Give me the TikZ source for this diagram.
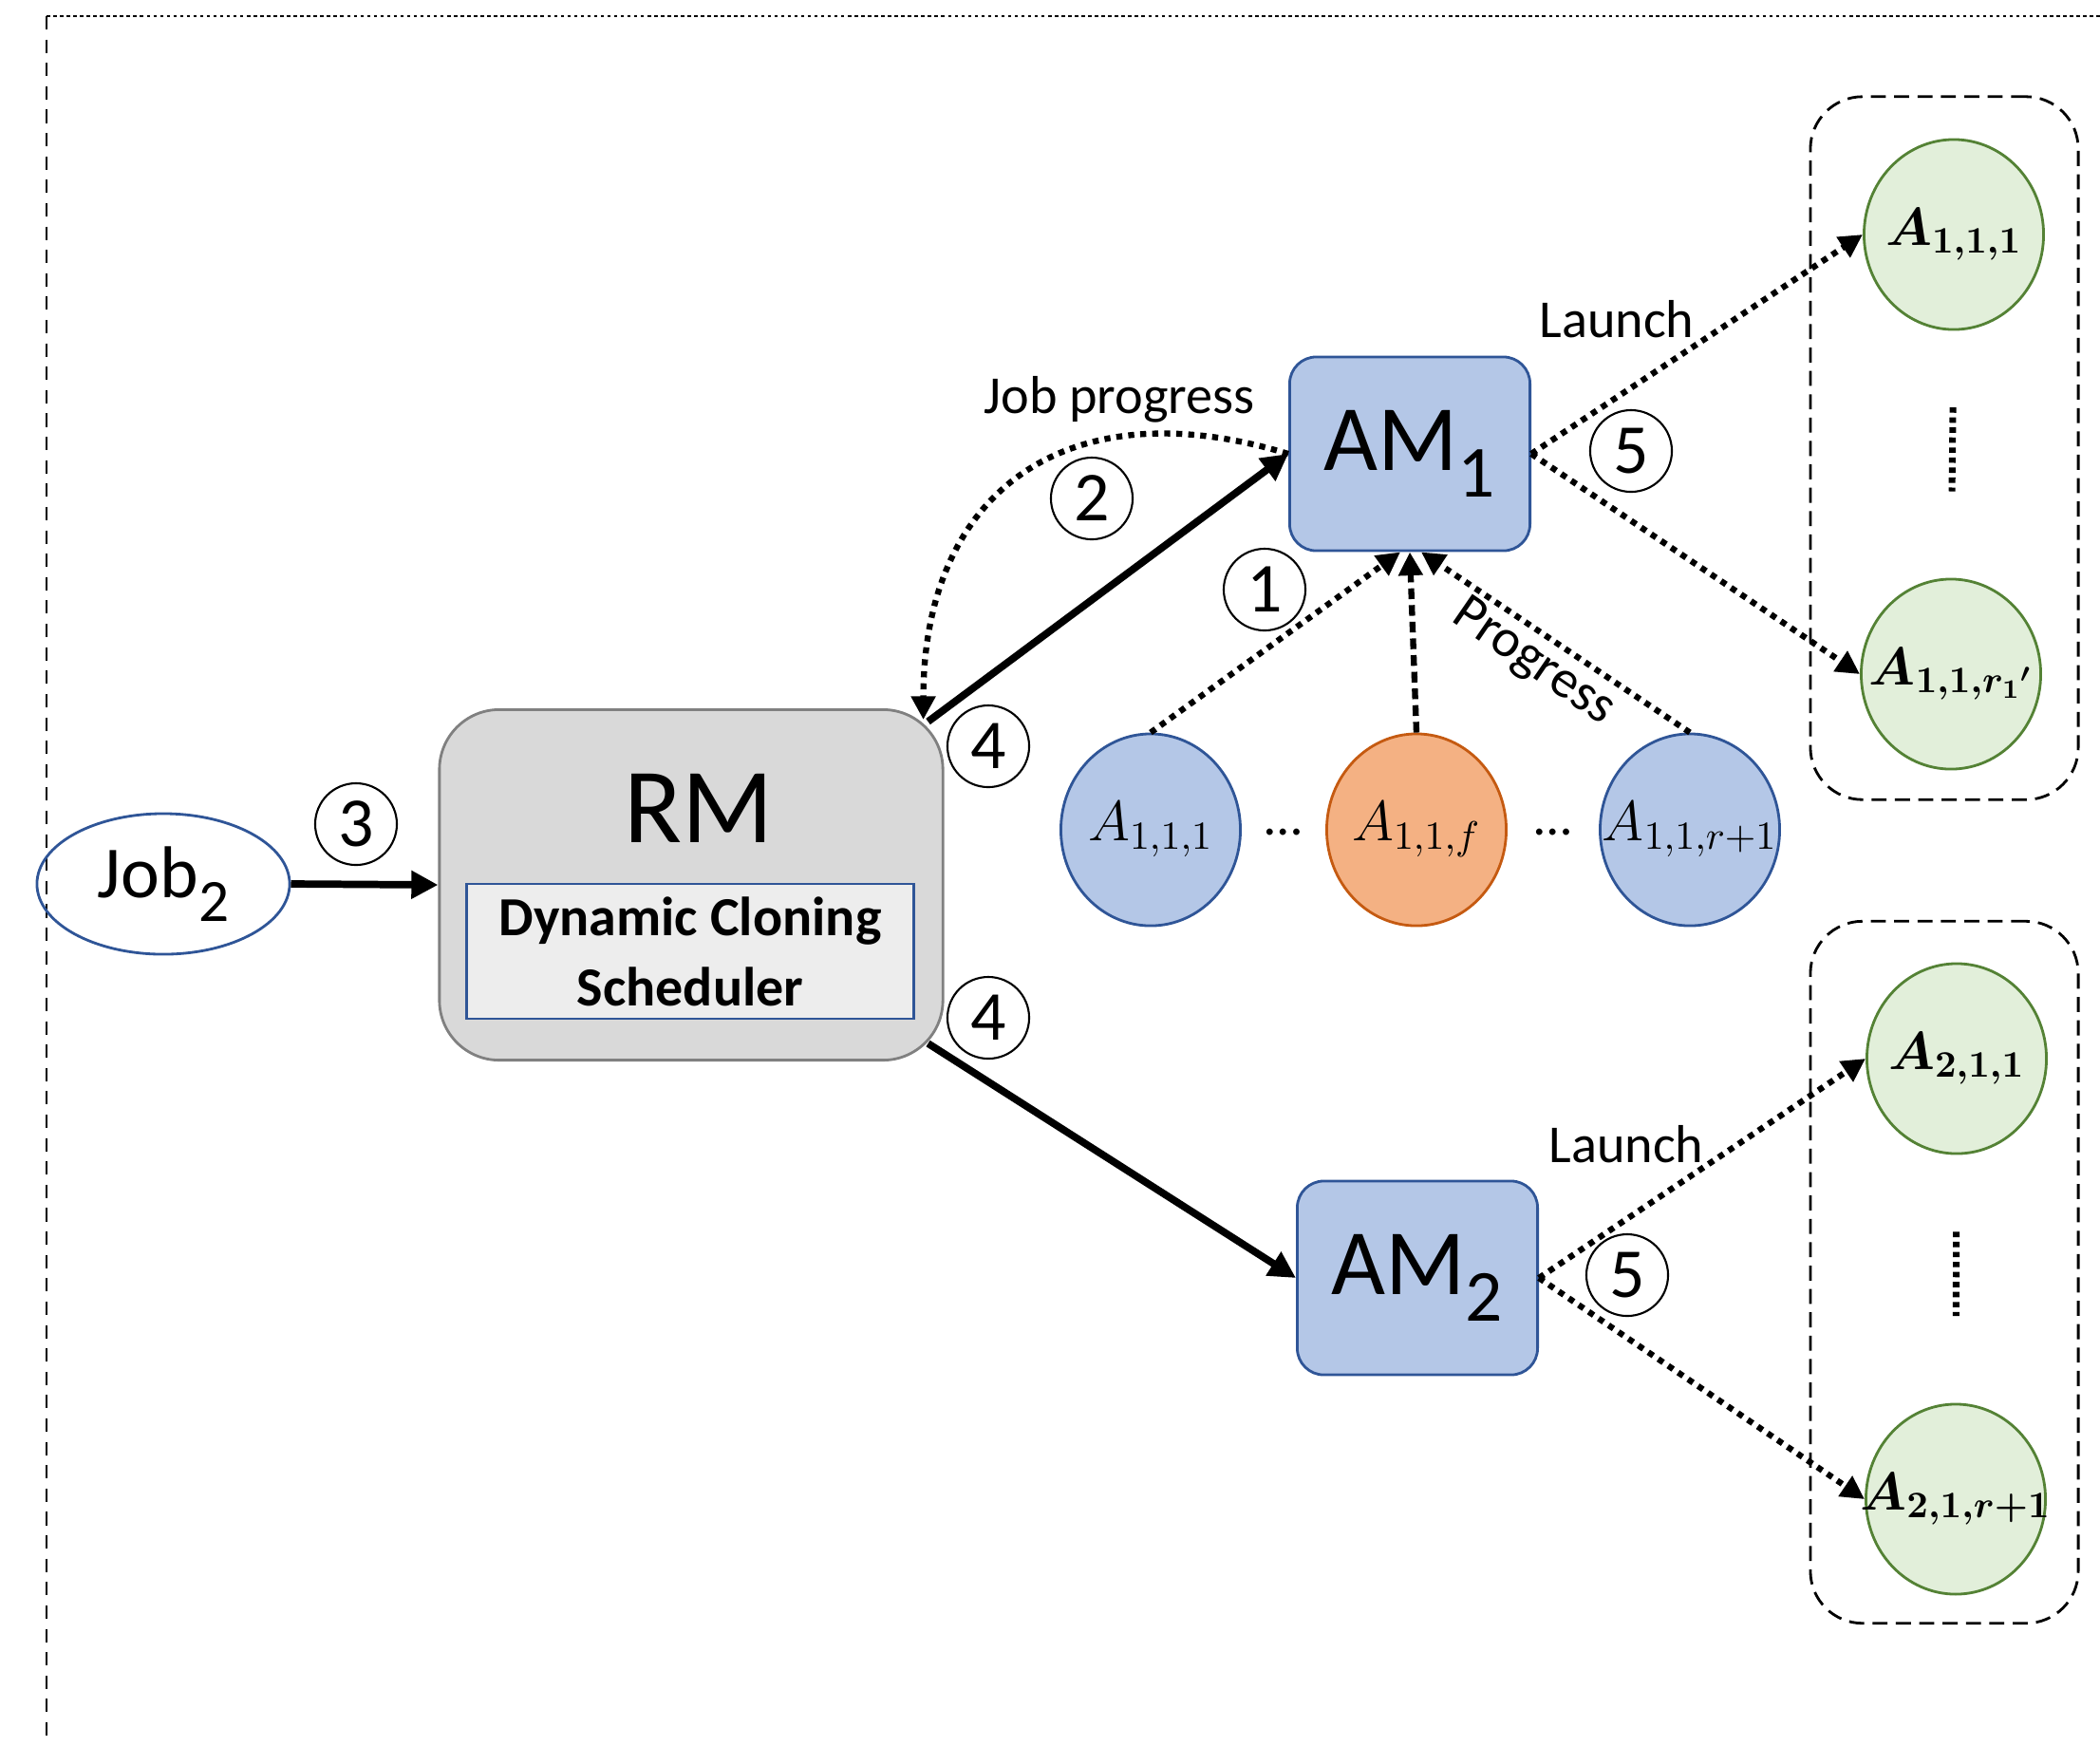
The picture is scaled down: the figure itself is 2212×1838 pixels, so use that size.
\RequirePackage{fix-cm}
\documentclass[tikz,border=0pt]{standalone}
\usepackage{amsmath,amssymb}
\usepackage{fontspec}
\setmainfont{Carlito}
\usetikzlibrary{arrows.meta,positioning,shapes.geometric,calc}
\definecolor{AMblue}{HTML}{B4C7E7}
\definecolor{AMedge}{HTML}{2F5597}
\definecolor{RMgray}{HTML}{D9D9D9}
\definecolor{RMedge}{HTML}{808080}
\definecolor{DCSfill}{HTML}{EDEDED}
\definecolor{FailOrange}{HTML}{F4B183}
\definecolor{FailEdge}{HTML}{C55A11}
\definecolor{CloneGreen}{HTML}{E2EFDA}
\definecolor{CloneEdge}{HTML}{548235}
\newcommand{\fsz}[1]{\fontsize{#1}{#1}\selectfont}
\newcommand{\lowsub}[3]{\raisebox{-#2}{\fontsize{#1}{#1}\selectfont #3}}
\newcommand{\tasklbl}[1]{\makebox[0pt]{$#1$}}

\begin{document}
\begin{tikzpicture}[x=0.01cm, y=-0.01cm, every node/.style={font=\fsz{16}}, amnode/.style={draw=AMedge,fill=AMblue,rounded corners=0.28cm,minimum width=2.53cm,minimum height=2.04cm,font=\fsz{28},line width=0.8pt}, task/.style={ellipse,draw=AMedge,fill=AMblue,minimum width=1.89cm,minimum height=2.02cm,inner sep=0pt,line width=0.8pt,font=\fsz{17}}, failed/.style={task,draw=FailEdge,fill=FailOrange}, clone/.style={task,draw=CloneEdge,fill=CloneGreen,minimum height=2.0cm,font=\fsz{16}}, group/.style={draw,rounded corners=0.55cm,line width=0.8pt,dash pattern=on 4.5pt off 2.5pt,minimum width=2.82cm}, stepnum/.style={circle,draw,line width=0.6pt,minimum size=0.86cm,inner sep=0pt,font=\fsz{21}}, ctrl/.style={-{Triangle[length=8pt,width=8pt]},line width=2.2pt}, report/.style={-{Triangle[length=7pt,width=7pt]},line width=1.8pt,dash pattern=on 1.8pt off 1.8pt}]
\useasboundingbox (0,0) rectangle (2212,1838);
% outer frame
\draw[line width=0.6pt,dash pattern=on 1pt off 1pt] (49,17) -- (2212,17);
\draw[line width=0.6pt,dash pattern=on 4pt off 3pt] (49,17) -- (49,1838);
% job and resource manager
\node[ellipse,draw=AMedge,line width=0.8pt,minimum width=2.66cm,minimum height=1.48cm,font=\fsz{22}] (job) at (172,931) {Job\lowsub{18}{7pt}{2}};
\node[draw=RMedge,fill=RMgray,rounded corners=0.63cm,minimum width=5.3cm,minimum height=3.69cm,line width=0.8pt] (rm) at (728,932) {};
\node[font=\fsz{32}] (rmtitle) at (736,851) {RM};
\node[draw=AMedge,fill=DCSfill,minimum width=4.71cm,minimum height=1.42cm,align=center,line width=0.8pt,font=\bfseries\fontsize{16.5}{21}\selectfont] (dcs) at (727,1002) {Dynamic Cloning\\Scheduler};
% application masters
\node[amnode] (am1) at (1485,478) {AM\lowsub{22}{8pt}{1}};
\node[amnode] (am2) at (1493,1346) {AM\lowsub{22}{8pt}{2}};
% running tasks of job 1
\node[task] (t1) at (1212,874) {\tasklbl{A_{1,1,1}}};
\node[failed] (tf) at (1492,874) {\tasklbl{A_{1,1,f}}};
\node[task] (tr) at (1780,874) {\tasklbl{A_{1,1,r+1}}};
\node (dl) at (1352,877) {\dots};
\node (dr) at (1636,877) {\dots};
% launched clones
\node[group,minimum height=7.4cm] (g1) at (2048,472) {};
\node[group,minimum height=7.39cm] (g2) at (2048,1340) {};
\node[clone] (c11) at (2058,247) {\tasklbl{\boldsymbol{A_{1,1,1}}}};
\node[clone] (c1r) at (2055,710) {\tasklbl{\boldsymbol{A_{1,1,{r_1}'}}}};
\node[clone] (c21) at (2061,1115) {\tasklbl{\boldsymbol{A_{2,1,1}}}};
\node[clone] (c2r) at (2060,1579) {\tasklbl{\boldsymbol{A_{2,1,r+1}}}};
\draw[line width=2pt,dash pattern=on 1.6pt off 1.4pt] ($(c11.south)!0.31!(c1r.north)$) -- ($(c11.south)!0.65!(c1r.north)$);
\draw[line width=2pt,dash pattern=on 1.6pt off 1.4pt] ($(c21.south)!0.31!(c2r.north)$) -- ($(c21.south)!0.65!(c2r.north)$);
% connectors
\draw[ctrl] (job.east) -- (rm.west); \draw[ctrl] ([shift={(-17,14)}]rm.north east) -- (am1.west); \draw[ctrl] ([shift={(-17,-19)}]rm.south east) -- (am2.west);
\draw[report] (am1.west) to[out=163,in=90,looseness=1.3] ([shift={(-22,12)}]rm.north east);
\draw[report] (t1.north) -- ([xshift=-0.1cm]am1.south); \draw[report,dash pattern=on 3.2pt off 1.8pt] (tf.north) -- (am1.south); \draw[report] (tr.north) -- ([xshift=0.12cm]am1.south);
\draw[report] (am1.east) -- (c11.west); \draw[report] (am1.east) -- (c1r.west);
\draw[report] (am2.east) -- (c21.west); \draw[report] (am2.east) -- (c2r.west);
% labels
\node[stepnum] (s3) at (375,868) {3};
\node[stepnum] (s4a) at (1041,786) {4};
\node[stepnum] (s4b) at (1041,1072) {4};
\node[stepnum] (s2) at (1150,525) {2};
\node[stepnum] (s1) at (1332,621) {1};
\node[stepnum] (s5a) at (1718,475) {5};
\node[stepnum] (s5b) at (1714,1343) {5};
\node (jobprog) at (1179,421) {Job progress};
\node (launch1) at (1703,336) {Launch};
\node (launch2) at (1713,1205) {Launch};
\node[rotate=-34.5] (prog) at (1615,698) {Progress};
\end{tikzpicture}
\end{document}
